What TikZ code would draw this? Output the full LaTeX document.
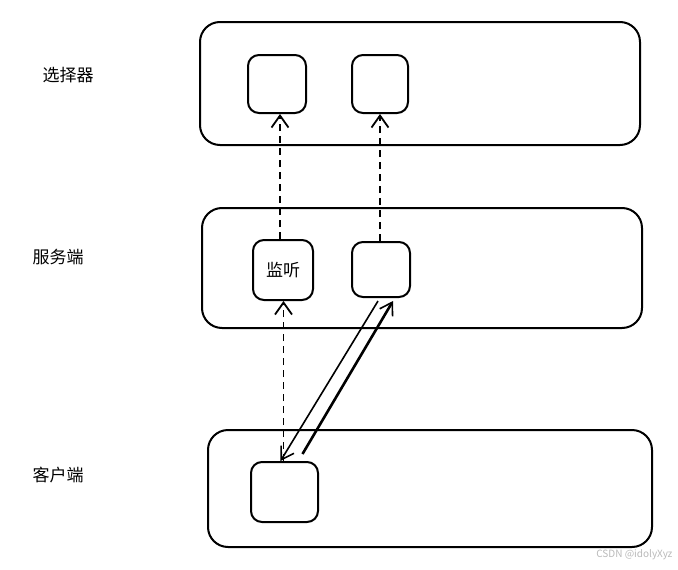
\documentclass[tikz,border=0pt]{standalone}
\usepackage{fontspec}
\setmainfont{Noto Sans CJK SC}
\usetikzlibrary{arrows.meta,positioning}
\tikzset{
  layer/.style={rectangle, draw, line width=2pt, rounded corners=20pt},
  slot/.style={rectangle, draw, line width=2pt, rounded corners=11pt, inner sep=0pt, font=\fontsize{17}{19}\selectfont},
  tag/.style={font=\fontsize{17}{19}\selectfont},
  dsh/.style={-{Straight Barb[length=12pt, width=17pt, line width=1.8pt]}, line width=1.9pt, dash pattern=on 7pt off 5pt},
  arr/.style={-{Straight Barb[length=12pt, width=15pt, line width=1.6pt]}, line width=1.6pt},
  wmark/.style={font=\fontsize{10}{11}\selectfont, text=gray!55}
}
\begin{document}
\begin{tikzpicture}[x=1pt, y=-1pt]
\useasboundingbox (0,0) rectangle (678,570);
% layers
\node[layer, minimum width=440pt, minimum height=123pt] (selbox) at (420,83.5) {};
\node[layer, minimum width=440pt, minimum height=120pt] (srvbox) at (422,268) {};
\node[layer, minimum width=444pt, minimum height=117pt] (clibox) at (430,488.5) {};

\node[tag] (seltag) at (68,75) {选择器};
\node[tag] (srvtag) at (58,257) {服务端};
\node[tag] (clitag) at (58,475) {客户端};

% inner slots
\node[slot, minimum width=58pt, minimum height=58pt] (sel1) at (277,84) {};
\node[slot, minimum width=56pt, minimum height=58pt] (sel2) at (380,84) {};
\node[slot, minimum width=60pt, minimum height=60pt] (listen) at (283,270) {监听};
\node[slot, minimum width=58pt, minimum height=55pt] (srv2) at (381,269.5) {};
\node[slot, minimum width=67pt, minimum height=60pt] (cli) at (284.5,492) {};

\draw[dsh] ([xshift=-3pt]listen.north) -- ([xshift=-3pt]listen.north |- sel1.south);
\draw[dsh] ([xshift=-1pt]srv2.north) -- ([xshift=-1pt]srv2.north |- sel2.south);
\draw[dsh] ([xshift=-1pt]cli.north) -- ([xshift=-1pt]cli.north |- listen.south);
\draw[arr] ([xshift=-3pt,yshift=-3pt]srv2.south) -- ([xshift=-4pt]cli.north);
\draw[arr, line width=2.6pt] ([xshift=18pt,yshift=7pt]cli.north) -- ([xshift=12pt,yshift=-3pt]srv2.south);

\node[wmark, anchor=east] (wm) at (676,555) {CSDN @idolyXyz};
\end{tikzpicture}
\end{document}
